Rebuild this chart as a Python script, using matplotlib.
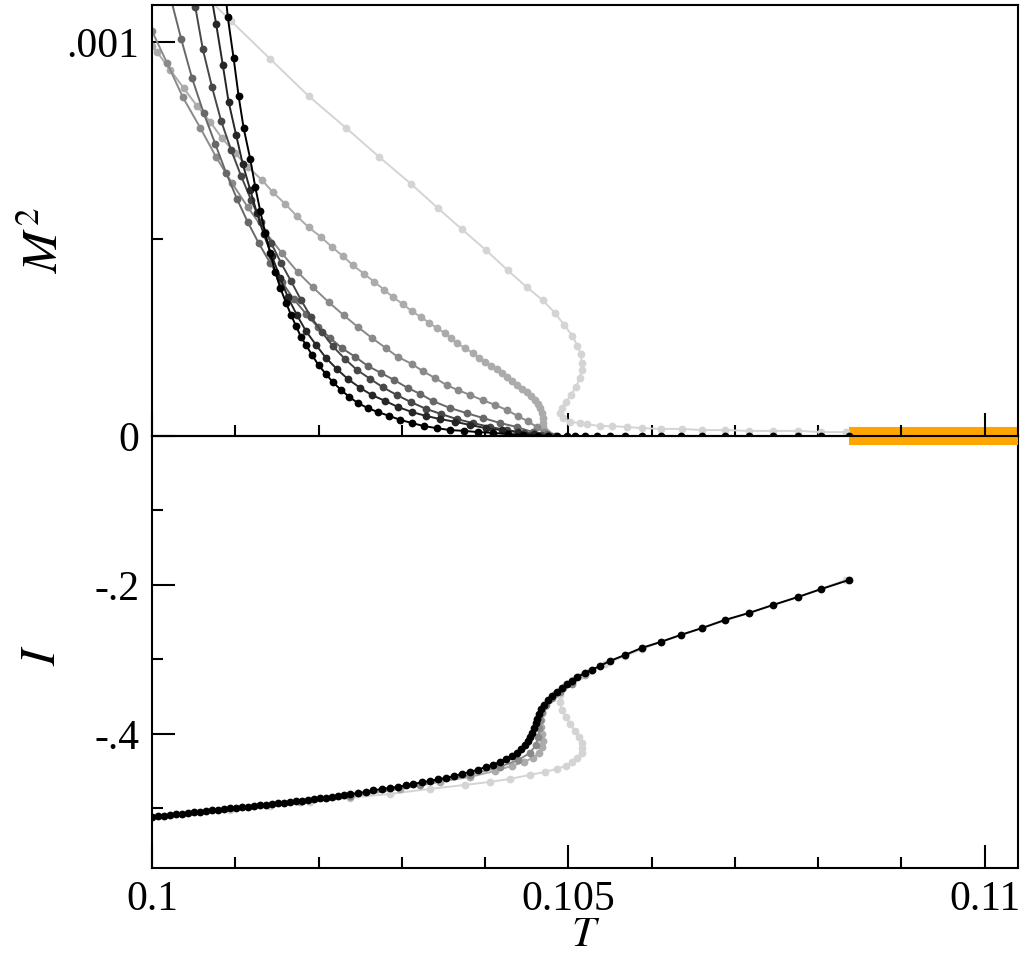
import numpy as np
import matplotlib
matplotlib.use("Agg")
import matplotlib.pyplot as plt
from matplotlib.ticker import FixedLocator, FixedFormatter

# ---------------- data ----------------
# upper panel: M^2 (in units of 1e-4) versus T, one series per grey level
t_m_black = [0.10089, 0.10091, 0.10098, 0.10104, 0.10110, 0.10118, 0.10124, 0.10130,
             0.10136, 0.10142, 0.10148, 0.10154, 0.10161, 0.10167, 0.10173, 0.10179,
             0.10185, 0.10192, 0.10200, 0.10209, 0.10217, 0.10227, 0.10237, 0.10247,
             0.10259, 0.10271, 0.10285, 0.10298, 0.10312, 0.10327, 0.10342, 0.10358,
             0.10375, 0.10391, 0.10409, 0.10427, 0.10445, 0.10463, 0.10475, 0.10486,
             0.10498, 0.10508, 0.10520, 0.10534, 0.10550, 0.10568, 0.10588, 0.10611,
             0.10635, 0.10661, 0.10688, 0.10717, 0.10746, 0.10776, 0.10804, 0.10837]
m2_black = [11.07, 10.63, 9.59, 8.63, 7.82, 7.03, 6.32, 5.71,
            5.15, 4.64, 4.16, 3.76, 3.38, 3.07, 2.79, 2.51,
            2.31, 2.06, 1.80, 1.57, 1.37, 1.17, 0.99, 0.84,
            0.71, 0.61, 0.51, 0.41, 0.33, 0.25, 0.20, 0.15,
            0.13, 0.10, 0.08, 0.05, 0.03, 0.01, 0, 0,
            0, 0, 0, 0, 0, 0, 0, 0,
            0, 0, 0, 0, 0, 0, 0, 0]

t_m_g1 = [0.10072, 0.10077, 0.10085, 0.10092, 0.10101, 0.10109, 0.10118, 0.10126,
          0.10134, 0.10144, 0.10154, 0.10163, 0.10174, 0.10185, 0.10197, 0.10209,
          0.10222, 0.10235, 0.10250, 0.10264, 0.10280, 0.10295, 0.10312, 0.10329,
          0.10346, 0.10364, 0.10382, 0.10401, 0.10420, 0.10439, 0.10459, 0.10475]
m2_g1 = [11.07, 10.46, 9.42, 8.48, 7.64, 6.90, 6.24, 5.66,
         5.13, 4.57, 4.01, 3.53, 3.07, 2.66, 2.31, 1.98,
         1.70, 1.45, 1.22, 1.04, 0.89, 0.74, 0.61, 0.51,
         0.43, 0.36, 0.28, 0.20, 0.15, 0.10, 0.05, 0.0]

t_m_g2 = [0.10050, 0.10052, 0.10061, 0.10072, 0.10083, 0.10095, 0.10107, 0.10119,
          0.10131, 0.10143, 0.10155, 0.10167, 0.10179, 0.10191, 0.10204, 0.10217,
          0.10232, 0.10246, 0.10262, 0.10277, 0.10294, 0.10311, 0.10329, 0.10347,
          0.10366, 0.10385, 0.10406, 0.10426, 0.10447, 0.10467, 0.10478]
m2_g2 = [11.07, 10.89, 9.82, 8.86, 8.00, 7.26, 6.60, 5.99,
         5.43, 4.90, 4.39, 3.93, 3.45, 3.02, 2.64, 2.28,
         1.95, 1.68, 1.45, 1.24, 1.04, 0.86, 0.69, 0.56,
         0.43, 0.33, 0.23, 0.15, 0.08, 0.03, 0.0]

t_m_g3 = [0.10023, 0.10035, 0.10048, 0.10062, 0.10076, 0.10089, 0.10102, 0.10115,
          0.10128, 0.10142, 0.10156, 0.10170, 0.10185, 0.10199, 0.10214, 0.10228,
          0.10244, 0.10259, 0.10275, 0.10291, 0.10307, 0.10322, 0.10337, 0.10358,
          0.10378, 0.10397, 0.10418, 0.10438, 0.10457, 0.10474, 0.10484]
m2_g3 = [11.07, 10.08, 9.09, 8.20, 7.41, 6.68, 6.02, 5.43,
         4.90, 4.39, 3.91, 3.48, 3.10, 2.77, 2.49, 2.23,
         2.01, 1.78, 1.60, 1.42, 1.22, 1.07, 0.89, 0.71,
         0.58, 0.46, 0.33, 0.23, 0.10, 0.05, 0.0]

t_m_g4 = [0.10000, 0.10018, 0.10037, 0.10058, 0.10077, 0.10096, 0.10115, 0.10136,
          0.10156, 0.10175, 0.10193, 0.10212, 0.10230, 0.10247, 0.10264, 0.10281,
          0.10295, 0.10312, 0.10325, 0.10340, 0.10354, 0.10367, 0.10382, 0.10397,
          0.10412, 0.10426, 0.10439, 0.10451, 0.10462, 0.10471, 0.10477]
m2_g4 = [10.28, 9.47, 8.60, 7.82, 7.08, 6.42, 5.81, 5.18,
         4.64, 4.16, 3.78, 3.40, 3.07, 2.77, 2.49, 2.23,
         2.01, 1.83, 1.65, 1.47, 1.29, 1.17, 1.04, 0.91,
         0.79, 0.66, 0.51, 0.38, 0.23, 0.10, 0.0]

t_m_g5 = [0.10000, 0.10006, 0.10022, 0.10038, 0.10054, 0.10070, 0.10084, 0.10100,
          0.10115, 0.10132, 0.10145, 0.10160, 0.10174, 0.10188, 0.10203, 0.10216,
          0.10229, 0.10241, 0.10255, 0.10267, 0.10279, 0.10289, 0.10301, 0.10312,
          0.10323, 0.10333, 0.10342, 0.10352, 0.10359, 0.10366, 0.10376, 0.10385,
          0.10393, 0.10400, 0.10407, 0.10414, 0.10420, 0.10426, 0.10432, 0.10438,
          0.10444, 0.10450, 0.10455, 0.10460, 0.10463, 0.10466, 0.10468, 0.10469,
          0.10469, 0.10469, 0.10472, 0.10474, 0.10478]
m2_g5 = [9.90, 9.75, 9.29, 8.83, 8.38, 7.97, 7.56, 7.18,
         6.83, 6.50, 6.19, 5.89, 5.58, 5.30, 5.05, 4.80,
         4.57, 4.34, 4.11, 3.91, 3.71, 3.53, 3.35, 3.17,
         3.02, 2.87, 2.74, 2.61, 2.49, 2.36, 2.23, 2.11,
         1.98, 1.88, 1.78, 1.70, 1.60, 1.50, 1.40, 1.29,
         1.19, 1.12, 1.02, 0.91, 0.81, 0.71, 0.58, 0.46,
         0.33, 0.23, 0.13, 0.08, 0.03]

t_m_g6 = [0.10048, 0.10095, 0.10142, 0.10188, 0.10233, 0.10273, 0.10311, 0.10343,
          0.10372, 0.10401, 0.10427, 0.10450, 0.10469, 0.10484, 0.10495, 0.10505,
          0.10511, 0.10515, 0.10516, 0.10516, 0.10514, 0.10509, 0.10503, 0.10497,
          0.10492, 0.10490, 0.10493, 0.10502, 0.10514, 0.10523, 0.10538, 0.10552,
          0.10570, 0.10589, 0.10611, 0.10636, 0.10661, 0.10688, 0.10717, 0.10746,
          0.10776, 0.10804, 0.10833]
m2_g6 = [11.50, 10.53, 9.57, 8.63, 7.82, 7.08, 6.40, 5.79,
         5.25, 4.72, 4.21, 3.78, 3.45, 3.12, 2.82, 2.54,
         2.28, 2.08, 1.85, 1.68, 1.47, 1.24, 1.04, 0.86,
         0.71, 0.58, 0.46, 0.36, 0.33, 0.30, 0.25, 0.25,
         0.23, 0.20, 0.18, 0.18, 0.15, 0.15, 0.13, 0.13,
         0.13, 0.10, 0.10]

# lower panel: I versus T
t_i_black = [0.10000, 0.10007, 0.10014, 0.10022, 0.10029, 0.10036, 0.10043, 0.10050,
             0.10058, 0.10065, 0.10072, 0.10079, 0.10086, 0.10094, 0.10101, 0.10108,
             0.10115, 0.10122, 0.10130, 0.10137, 0.10144, 0.10151, 0.10158, 0.10166,
             0.10173, 0.10180, 0.10187, 0.10194, 0.10202, 0.10209, 0.10216, 0.10223,
             0.10230, 0.10238, 0.10247, 0.10257, 0.10266, 0.10276, 0.10286, 0.10295,
             0.10305, 0.10314, 0.10324, 0.10334, 0.10343, 0.10353, 0.10363, 0.10372,
             0.10382, 0.10391, 0.10401, 0.10409, 0.10418, 0.10425, 0.10432, 0.10438,
             0.10443, 0.10448, 0.10451, 0.10454, 0.10456, 0.10459, 0.10461, 0.10462,
             0.10465, 0.10467, 0.10471, 0.10475, 0.10480, 0.10486, 0.10492, 0.10498,
             0.10504, 0.10511, 0.10520, 0.10528, 0.10538, 0.10550, 0.10568, 0.10588,
             0.10611, 0.10635, 0.10661, 0.10688, 0.10717, 0.10746, 0.10776, 0.10804,
             0.10837]
i_black = [-0.5114, -0.5107, -0.5101, -0.5087, -0.5081, -0.5074, -0.5060, -0.5054,
           -0.5047, -0.5034, -0.5027, -0.5020, -0.5007, -0.5000, -0.4993, -0.4987,
           -0.4980, -0.4966, -0.4960, -0.4953, -0.4940, -0.4933, -0.4926, -0.4913,
           -0.4906, -0.4899, -0.4886, -0.4872, -0.4866, -0.4859, -0.4846, -0.4832,
           -0.4819, -0.4812, -0.4792, -0.4779, -0.4758, -0.4738, -0.4725, -0.4711,
           -0.4691, -0.4671, -0.4651, -0.4631, -0.4611, -0.4591, -0.4564, -0.4537,
           -0.4510, -0.4483, -0.4443, -0.4416, -0.4376, -0.4336, -0.4295, -0.4255,
           -0.4201, -0.4148, -0.4094, -0.4040, -0.3987, -0.3919, -0.3852, -0.3799,
           -0.3732, -0.3664, -0.3611, -0.3544, -0.3490, -0.3436, -0.3383, -0.3329,
           -0.3289, -0.3235, -0.3181, -0.3141, -0.3087, -0.3020, -0.2940, -0.2846,
           -0.2765, -0.2671, -0.2577, -0.2470, -0.2376, -0.2268, -0.2161, -0.2054,
           -0.1933]

t_i_g4 = [0.10238, 0.10322, 0.10382, 0.10418, 0.10440, 0.10454, 0.10461, 0.10464,
          0.10465, 0.10466, 0.10468, 0.10473, 0.10480, 0.10490, 0.10504]
i_g4 = [-0.4832, -0.4685, -0.4550, -0.4443, -0.4349, -0.4255, -0.4148, -0.4040,
        -0.3919, -0.3812, -0.3705, -0.3611, -0.3517, -0.3436, -0.3329]

t_i_g5 = [0.10178, 0.10238, 0.10298, 0.10346, 0.10382, 0.10412, 0.10432, 0.10447,
          0.10457, 0.10465, 0.10468, 0.10469, 0.10468, 0.10467, 0.10467, 0.10468,
          0.10472, 0.10477, 0.10484, 0.10493, 0.10504, 0.10520]
i_g5 = [-0.4913, -0.4846, -0.4738, -0.4644, -0.4577, -0.4497, -0.4430, -0.4376,
        -0.4322, -0.4255, -0.4174, -0.4094, -0.4000, -0.3906, -0.3812, -0.3718,
        -0.3624, -0.3544, -0.3463, -0.3383, -0.3302, -0.3208]

t_i_g6 = [0.10094, 0.10142, 0.10190, 0.10238, 0.10286, 0.10334, 0.10376, 0.10406,
          0.10430, 0.10454, 0.10472, 0.10486, 0.10497, 0.10505, 0.10511, 0.10516,
          0.10517, 0.10516, 0.10513, 0.10508, 0.10502, 0.10497, 0.10492, 0.10490,
          0.10490, 0.10492, 0.10497, 0.10504, 0.10514, 0.10526, 0.10544, 0.10568,
          0.10589, 0.10611, 0.10661, 0.10717, 0.10776, 0.10833]
i_g6 = [-0.5020, -0.4966, -0.4913, -0.4859, -0.4805, -0.4738, -0.4685, -0.4644,
        -0.4604, -0.4550, -0.4510, -0.4470, -0.4430, -0.4376, -0.4322, -0.4255,
        -0.4188, -0.4121, -0.4040, -0.3960, -0.3866, -0.3772, -0.3678, -0.3570,
        -0.3477, -0.3396, -0.3329, -0.3275, -0.3221, -0.3154, -0.3060, -0.2953,
        -0.2859, -0.2765, -0.2577, -0.2376, -0.2161, -0.1933]

gap_T = [0.10837, 0.1104]     # orange band on the M^2 = 0 line

grey = {"black": "#000000", "g1": "#262626", "g2": "#474747", "g3": "#686868",
        "g4": "#8a8a8a", "g5": "#ababab", "g6": "#d4d4d4"}

# ---------------- figure ----------------
plt.rcParams["font.family"] = ["Liberation Serif", "DejaVu Serif"]
plt.rcParams["mathtext.fontset"] = "stix"

fig = plt.figure(figsize=(10.32, 9.61), dpi=100)
ax2 = fig.add_axes([0.1473, 0.0968, 0.8391, 0.4495])
ax1 = fig.add_axes([0.1473, 0.5463, 0.8391, 0.4485])
ax1.set_zorder(3)

mk = dict(marker="o", markersize=5.6, lw=1.4, markeredgewidth=0)

top = [("g6", t_m_g6, m2_g6), ("g5", t_m_g5, m2_g5), ("g4", t_m_g4, m2_g4),
       ("g3", t_m_g3, m2_g3), ("g2", t_m_g2, m2_g2), ("g1", t_m_g1, m2_g1),
       ("black", t_m_black, m2_black)]
for key, t, m in top:
    ax1.plot(t, np.array(m) * 1e-4, color=grey[key], **mk)

ax1.plot(gap_T, [0, 0], color="#ffa500", lw=13, solid_capstyle="butt",
         clip_on=False, zorder=1.5)

bottom = [("g6", t_i_g6, i_g6), ("g5", t_i_g5, i_g5), ("g4", t_i_g4, i_g4),
          ("black", t_i_black, i_black)]
for key, t, v in bottom:
    ax2.plot(t, v, color=grey[key], **mk)

# ---------------- axes styling ----------------
xlim = (0.1, 0.1104)
for ax in (ax1, ax2):
    ax.set_xlim(*xlim)
    for s in ax.spines.values():
        s.set_linewidth(1.5)
    ax.xaxis.set_major_locator(FixedLocator([0.1, 0.105, 0.11]))
    ax.xaxis.set_minor_locator(FixedLocator(np.arange(0.101, 0.1105, 0.001)))
    ax.tick_params(which="both", direction="in", width=1.5, labelsize=30,
                   top=False, right=False, pad=9)
    ax.tick_params(which="major", length=16.5)
    ax.tick_params(which="minor", length=8)

ax1.set_ylim(0, 0.001094)
ax1.yaxis.set_major_locator(FixedLocator([0, 0.001]))
ax1.yaxis.set_major_formatter(FixedFormatter(["0", ".001"]))
ax1.yaxis.set_minor_locator(FixedLocator([0.0005]))
ax1.tick_params(axis="x", labelbottom=False)
ax1.patch.set_visible(False)

ax2.set_ylim(-0.58, 0)
ax2.yaxis.set_major_locator(FixedLocator([-0.4, -0.2]))
ax2.yaxis.set_major_formatter(FixedFormatter(["-.4", "-.2"]))
ax2.yaxis.set_minor_locator(FixedLocator([-0.5, -0.3, -0.1]))
ax2.xaxis.set_major_formatter(FixedFormatter(["0.1", "0.105", "0.11"]))

fig.text(0.044, 0.75, r"$M^2$", fontsize=36, rotation=90, ha="center", va="center")
fig.text(0.041, 0.318, r"$I$", fontsize=36, rotation=90, ha="center", va="center")
fig.text(0.567, 0.016, r"$T$", fontsize=31, ha="center", va="baseline")

fig.savefig("out.png", dpi=100)
